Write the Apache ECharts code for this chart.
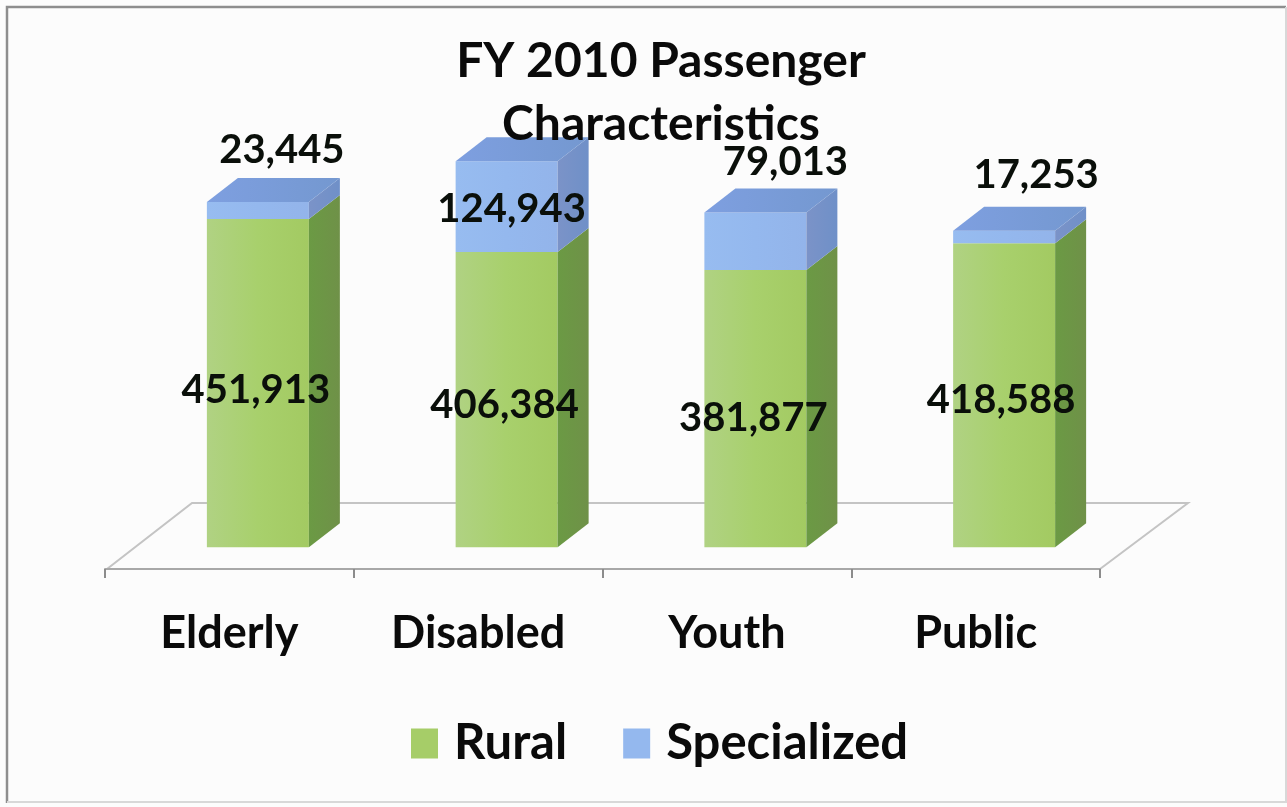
<!DOCTYPE html>
<html>
<head>
<meta charset="utf-8">
<title>FY 2010 Passenger Characteristics</title>
<style>
html,body{margin:0;padding:0;background:#fcfcfc;}
#main{width:1287px;height:807px;}
</style>
<script src="https://cdn.jsdelivr.net/npm/echarts@6/dist/echarts.min.js"></script>
</head>
<body>
<div id="main"></div>
<script>
var categories = ['Elderly', 'Disabled', 'Youth', 'Public'];
var rural = [451913, 406384, 381877, 418588];
var specialized = [23445, 124943, 79013, 17253];

// hand placed labels in the original, pixel nudges from segment middle
var ruralNudge = [[-2, 7], [-2, 5], [-2, 10], [-3, 5]];
var specNudge = [[24, -60], [5, 2], [30, -79], [32, -62]];

var font = 'Lato, Carlito, sans-serif';
var barWidth = 102, barShift = 28.5, depthX = 31, depthY = 24;

function grad(stops) {
	return {
		type: 'linear', x: 0, y: 0, x2: 1, y2: 0,
		colorStops: stops.map(function(c, i) {
			return {offset: i / (stops.length - 1), color: c};
		})
	};
}
var skins = {
	Rural: {
		front: grad(['#b0d283', '#a8d06c', '#a3ca62']),
		side: grad(['#6b9a44', '#6f9148'])
	},
	Specialized: {
		front: grad(['#97bcf0', '#94b8ee', '#93b4ea']),
		side: grad(['#7b93c8', '#6f90c8']),
		top: grad(['#7e9fe0', '#7498d0'])
	}
};

function makeRender(name, nudges) {
	return function(params, api) {
		var i = api.value(0);
		var lo = api.coord([i, api.value(1)]);
		var hi = api.coord([i, api.value(2)]);
		var x0 = lo[0] + barShift - barWidth / 2;
		var x1 = x0 + barWidth;
		var skin = skins[name];
		var kids = [
			{type: 'polygon', shape: {points: [[x0, lo[1]], [x1, lo[1]], [x1, hi[1]], [x0, hi[1]]]}, style: {fill: skin.front}},
			{type: 'polygon', shape: {points: [[x1, lo[1]], [x1 + depthX, lo[1] - depthY], [x1 + depthX, hi[1] - depthY], [x1, hi[1]]]}, style: {fill: skin.side}}
		];
		if (skin.top) {
			kids.push({type: 'polygon', shape: {points: [[x0, hi[1]], [x0 + depthX, hi[1] - depthY], [x1 + depthX, hi[1] - depthY], [x1, hi[1]]]}, style: {fill: skin.top}});
		}
		kids.push({
			type: 'text', z2: 10,
			style: {
				x: lo[0] + barShift + nudges[i][0],
				y: (lo[1] + hi[1]) / 2 + nudges[i][1],
				text: (api.value(2) - api.value(1)).toLocaleString('en-US'),
				align: 'center', verticalAlign: 'middle',
				font: 'bold 40px ' + font, fill: '#0a0f0a'
			}
		});
		return {type: 'group', children: kids};
	};
}

var ruralData = rural.map(function(v, i) { return [i, 0, v]; });
var specData = specialized.map(function(v, i) { return [i, rural[i], rural[i] + v]; });

var myChart = echarts.init(document.getElementById('main'));
var option = {
	animation: false,
	backgroundColor: '#fcfcfc',
	title: {
		text: 'FY 2010 Passenger\nCharacteristics',
		left: 656, top: 25, textAlign: 'center', z: 20,
		textStyle: {fontFamily: font, fontWeight: 'bold', fontSize: 48, lineHeight: 63, color: '#0a0a0a'}
	},
	legend: {
		left: 406, top: 714,
		icon: 'rect', itemWidth: 27, itemHeight: 30, itemGap: 56,
		data: ['Rural', 'Specialized'],
		textStyle: {fontFamily: font, fontWeight: 'bold', fontSize: 49, color: '#0a0a0a', padding: [0, 0, 0, 11]}
	},
	grid: {left: 105, width: 995, top: 111.5, height: 457.5},
	xAxis: {
		type: 'category', data: categories,
		axisLine: {onZero: false, lineStyle: {color: '#a8a8a8', width: 2}},
		axisTick: {show: true, length: 9, lineStyle: {color: '#8c8c8c', width: 2}},
		axisLabel: {fontFamily: font, fontWeight: 'bold', fontSize: 45, color: '#0a0a0a', margin: 42, interval: 0}
	},
	yAxis: {type: 'value', min: -30000, max: 600000, show: false},
	graphic: [
		{type: 'polyline', z: 0, shape: {points: [[107, 569], [192, 503], [1188, 503], [1100, 569]]}, style: {fill: 'none', stroke: '#c4c4c4', lineWidth: 2}},
		{type: 'polyline', z: 0, shape: {points: [[7, 803], [7, 7], [1286, 7]]}, style: {fill: 'none', stroke: '#8e8e8e', lineWidth: 2.5}},
		{type: 'polyline', z: 0, shape: {points: [[7, 802], [1286, 802], [1286, 7]]}, style: {fill: 'none', stroke: '#d8d8d8', lineWidth: 2}}
	],
	series: [
		{name: 'Rural', type: 'custom', clip: false, data: ruralData, itemStyle: {color: '#a6cd68'}, encode: {x: 0, y: [1, 2]}, renderItem: makeRender('Rural', ruralNudge)},
		{name: 'Specialized', type: 'custom', clip: false, data: specData, itemStyle: {color: '#94b8ee'}, encode: {x: 0, y: [1, 2]}, renderItem: makeRender('Specialized', specNudge)}
	]
};
myChart.setOption(option);
</script>
</body>
</html>
